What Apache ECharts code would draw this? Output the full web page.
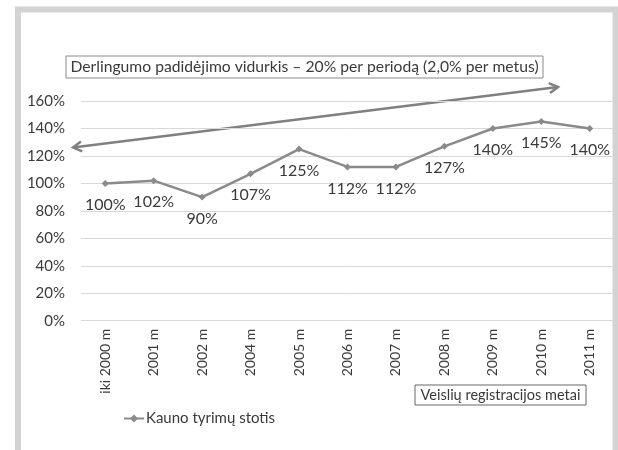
<!DOCTYPE html>
<html>
<head>
<meta charset="utf-8">
<script src="https://cdn.jsdelivr.net/npm/echarts@6/dist/echarts.min.js"></script>
<style>
  html, body { margin: 0; padding: 0; background: #fff; }
  #chart { width: 618px; height: 450px; }
</style>
</head>
<body>
<div id="chart"></div>
<script>
// duomenys
const categories = ["iki 2000 m", "2001 m", "2002 m", "2004 m", "2005 m", "2006 m", "2007 m", "2008 m", "2009 m", "2010 m", "2011 m"];
const kaunoValues = [100, 102, 90, 107, 125, 112, 112, 127, 140, 145, 140];
const yTicks = [0, 20, 40, 60, 80, 100, 120, 140, 160];

const seriesName = "Kauno tyrimų stotis";
const noteText = "Derlingumo padidėjimo vidurkis – 20% per periodą (2,0% per metus)";
const axisTitle = "Veislių registracijos metai";

const font = "Lato";
const textColor = "#3a3a3a";
const lineColor = "#8a8a8a";

// rodyklė (dvipusė) – pikseliais
function arrowHeads(x1, y1, x2, y2, len) {
  let a = Math.atan2(y2 - y1, x2 - x1);
  let h = Math.PI / 6;
  let head = (x, y, ang) => [
    [x + len * Math.cos(ang + h), y + len * Math.sin(ang + h)],
    [x, y],
    [x + len * Math.cos(ang - h), y + len * Math.sin(ang - h)],
  ];
  return [head(x2, y2, a + Math.PI), head(x1, y1, a)];
}
const ax1 = 73, ay1 = 147.5, ax2 = 558, ay2 = 87;
const heads = arrowHeads(ax1, ay1, ax2, ay2, 10);

let chart = echarts.init(document.getElementById("chart"));
let option = {
  backgroundColor: "#fff",
  animation: false,
  textStyle: { fontFamily: font },
  grid: {
    left: 81,
    right: 4,
    top: 101,
    bottom: 129.3,
  },
  legend: {
    left: 118,
    top: 406,
    itemWidth: 20,
    itemHeight: 10,
    textStyle: { fontFamily: font, fontSize: 15, color: textColor, padding: [0, 0, 0, -3] },
    data: [seriesName],
  },
  xAxis: {
    type: "category",
    data: categories,
    boundaryGap: true,
    axisLine: { show: false },
    axisTick: { show: false },
    axisLabel: {
      rotate: 90,
      margin: 8,
      interval: 0,
      fontFamily: font,
      fontSize: 14,
      color: textColor,
    },
  },
  yAxis: {
    type: "value",
    min: yTicks[0],
    max: yTicks[yTicks.length - 1],
    interval: 20,
    axisLine: { show: false },
    axisTick: { show: false },
    axisLabel: {
      margin: 16,
      fontFamily: font,
      fontSize: 15,
      color: textColor,
      formatter: "{value}%",
    },
    splitLine: { lineStyle: { color: "#d9d9d9", width: 1 } },
  },
  series: [
    {
      name: seriesName,
      type: "line",
      data: kaunoValues,
      symbol: "diamond",
      symbolSize: 7,
      color: lineColor,
      lineStyle: { color: lineColor, width: 2.5 },
      itemStyle: { color: lineColor },
      label: {
        show: true,
        position: "bottom",
        distance: 10,
        fontFamily: font,
        fontSize: 16,
        color: textColor,
        formatter: "{c}%",
      },
    },
  ],
  graphic: [
    {
      type: "rect",
      shape: { x: 18, y: 9.5, width: 597.5, height: 500 },
      style: { fill: "none", stroke: "#d3d3d3", lineWidth: 6 },
      silent: true,
    },
    {
      type: "group",
      children: [
        {
          type: "line",
          shape: { x1: ax1, y1: ay1, x2: ax2, y2: ay2 },
          style: { stroke: "#808080", lineWidth: 2.5 },
        },
        {
          type: "polyline",
          shape: { points: heads[0] },
          style: { stroke: "#808080", lineWidth: 2.5, fill: "none" },
        },
        {
          type: "polyline",
          shape: { points: heads[1] },
          style: { stroke: "#808080", lineWidth: 2.5, fill: "none" },
        },
      ],
    },
    {
      type: "rect",
      shape: { x: 66, y: 56, width: 477, height: 22 },
      style: { fill: "#fff", stroke: "#8a8a8a", lineWidth: 1 },
    },
    {
      type: "text",
      x: 304.5,
      y: 67,
      style: {
        text: noteText,
        fontFamily: font,
        fontSize: 15.7,
        fill: textColor,
        align: "center",
        verticalAlign: "middle",
      },
    },
    {
      type: "rect",
      shape: { x: 415, y: 385, width: 171, height: 20 },
      style: { fill: "#fff", stroke: "#666", lineWidth: 1 },
    },
    {
      type: "text",
      x: 500.5,
      y: 395,
      style: {
        text: axisTitle,
        fontFamily: font,
        fontSize: 14.5,
        fill: textColor,
        align: "center",
        verticalAlign: "middle",
      },
    },
  ],
};
chart.setOption(option);
window.addEventListener("resize", function () {
  chart.resize();
});
</script>
</body>
</html>
